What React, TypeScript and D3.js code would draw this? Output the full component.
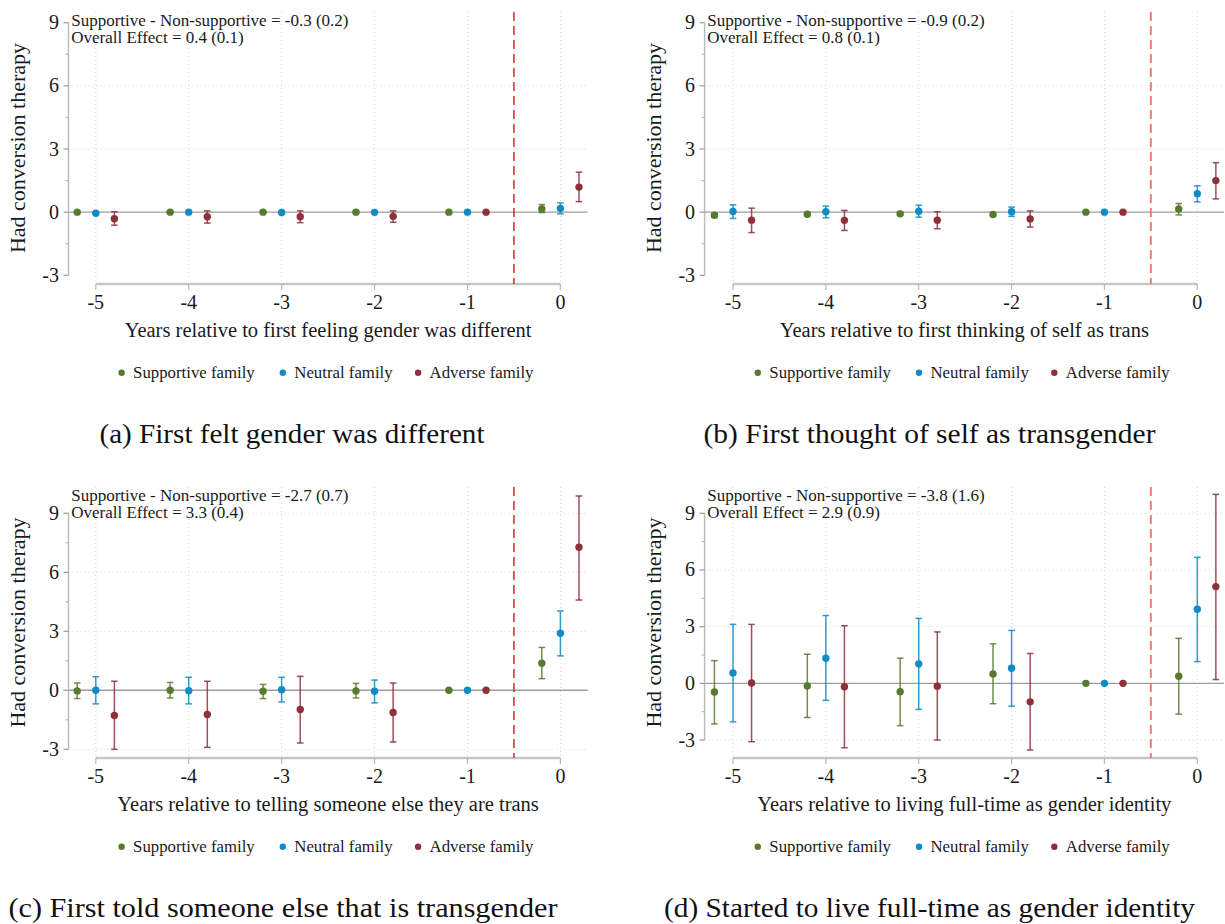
import React from 'react';
import * as d3 from 'd3';

// event time (years relative to the event)
const years = [-5, -4, -3, -2, -1, 0];
const yTicks = [-3, 0, 3, 6, 9];
const yMinorTicks = [-1.5, 1.5, 4.5, 7.5];

const groupNames = ['Supportive family', 'Neutral family', 'Adverse family'];
const groupColors = ['#587a2f', '#0f8bc6', '#8e3039'];
const groupShift = [-0.2, 0, 0.2];

// [estimate, lower, upper] per year
// (a) first felt gender was different
const supportiveA = [[0, -0.03, 0.03], [0, -0.03, 0.03], [0, -0.03, 0.03], [0, -0.03, 0.03], [0, 0, 0], [0.15, -0.02, 0.36]];
const neutralA = [[-0.05, -0.08, -0.02], [0, -0.03, 0.03], [-0.02, -0.05, 0.01], [-0.01, -0.04, 0.02], [0, 0, 0], [0.18, -0.08, 0.44]];
const adverseA = [[-0.31, -0.62, 0.02], [-0.22, -0.52, 0.06], [-0.22, -0.5, 0.06], [-0.2, -0.48, 0.06], [0, 0, 0], [1.19, 0.5, 1.9]];

// (b) first thought of self as transgender
const supportiveB = [[-0.15, -0.25, -0.05], [-0.1, -0.18, -0.02], [-0.08, -0.15, 0], [-0.11, -0.19, -0.03], [0, 0, 0], [0.15, -0.13, 0.41]];
const neutralB = [[0.03, -0.3, 0.35], [0.02, -0.27, 0.29], [0.04, -0.24, 0.33], [0.02, -0.2, 0.24], [0, 0, 0], [0.88, 0.49, 1.25]];
const adverseB = [[-0.38, -0.97, 0.19], [-0.39, -0.87, 0.08], [-0.38, -0.79, 0.02], [-0.32, -0.71, 0.06], [0, 0, 0], [1.5, 0.63, 2.35]];

// (c) first told someone else
const supportiveC = [[-0.03, -0.42, 0.37], [0, -0.39, 0.4], [-0.05, -0.42, 0.3], [-0.03, -0.39, 0.35], [0, 0, 0], [1.38, 0.59, 2.18]];
const neutralC = [[0, -0.69, 0.69], [-0.02, -0.69, 0.66], [0.03, -0.59, 0.66], [-0.05, -0.64, 0.52], [0, 0, 0], [2.9, 1.75, 4.03]];
const adverseC = [[-1.28, -3.0, 0.46], [-1.23, -2.9, 0.46], [-0.98, -2.68, 0.71], [-1.13, -2.63, 0.37], [0, 0, 0], [7.27, 4.59, 9.88]];

// (d) started to live full-time
const supportiveD = [[-0.46, -2.15, 1.2], [-0.14, -1.81, 1.54], [-0.44, -2.24, 1.33], [0.5, -1.08, 2.09], [0, 0, 0], [0.38, -1.63, 2.38]];
const neutralD = [[0.55, -2.04, 3.12], [1.33, -0.9, 3.59], [1.03, -1.38, 3.44], [0.8, -1.21, 2.8], [0, 0, 0], [3.92, 1.15, 6.67]];
const adverseD = [[0.02, -3.09, 3.12], [-0.18, -3.41, 3.05], [-0.15, -3.0, 2.72], [-0.98, -3.53, 1.58], [0, 0, 0], [5.12, 0.2, 10.0]];

const annotationsA = ['Supportive - Non-supportive = -0.3 (0.2)', 'Overall Effect = 0.4 (0.1)'];
const annotationsB = ['Supportive - Non-supportive = -0.9 (0.2)', 'Overall Effect = 0.8 (0.1)'];
const annotationsC = ['Supportive - Non-supportive = -2.7 (0.7)', 'Overall Effect = 3.3 (0.4)'];
const annotationsD = ['Supportive - Non-supportive = -3.8 (1.6)', 'Overall Effect = 2.9 (0.9)'];

const xTitles = [
  'Years relative to first feeling gender was different',
  'Years relative to first thinking of self as trans',
  'Years relative to telling someone else they are trans',
  'Years relative to living full-time as gender identity',
];
const captions = [
  '(a) First felt gender was different',
  '(b) First thought of self as transgender',
  '(c) First told someone else that is transgender',
  '(d) Started to live full-time as gender identity',
];
const captionWidths = [385, 452, 549, 531];
const captionCenters = [292, 929.5, 283, 929.5];

const serif = 'Liberation Serif, Times New Roman, Times, DejaVu Serif, serif';

// column / row geometry
const cols = [
  { x0: 95.8, x1: 560.4, axisX: 68.5, right: 587.7 },
  { x0: 733, x1: 1197.3, axisX: 704.6, right: 1224 },
];
const rows = [
  { top: 12, axisY: 284 },
  { top: 487, axisY: 758 },
];

const panels = [
  { col: 0, row: 0, series: [supportiveA, neutralA, adverseA], notes: annotationsA, yr: [275.3, 22.7], gridEnds: false, vcolor: '#d8141a', vwidth: 1.4 },
  { col: 1, row: 0, series: [supportiveB, neutralB, adverseB], notes: annotationsB, yr: [275.3, 22.7], gridEnds: false, vcolor: '#f77a7a', vwidth: 2 },
  { col: 0, row: 1, series: [supportiveC, neutralC, adverseC], notes: annotationsC, yr: [749.3, 513.3], gridEnds: true, vcolor: '#d8141a', vwidth: 1.4 },
  { col: 1, row: 1, series: [supportiveD, neutralD, adverseD], notes: annotationsD, yr: [740, 513.3], gridEnds: true, vcolor: '#f77a7a', vwidth: 2 },
];

const Panel = ({ p, i }) => {
  const c = cols[p.col];
  const r = rows[p.row];
  const x = d3.scaleLinear().domain([-5, 0]).range([c.x0, c.x1]);
  const y = d3.scaleLinear().domain([-3, 9]).range(p.yr);
  const mid = (c.axisX + c.right) / 2;
  const gridY = yTicks.filter((t) => t !== 0 && (p.gridEnds || (t !== -3 && t !== 9)));
  const legendDots = [-206.5, -45.3, 90];
  const cap = 3.3;

  return (
    <g>
      {/* grid */}
      {gridY.map((t) => (
        <line key={'gy' + t} x1={c.axisX} x2={c.right} y1={y(t)} y2={y(t)} stroke="#d4d4d4" strokeWidth={1} strokeDasharray="1,3" />
      ))}
      {years.map((t) => (
        <line key={'gx' + t} x1={x(t)} x2={x(t)} y1={r.top} y2={r.axisY} stroke="#d4d4d4" strokeWidth={1} strokeDasharray="1,3" />
      ))}
      {/* zero line */}
      <line x1={c.axisX} x2={c.right} y1={y(0)} y2={y(0)} stroke="#9e9e9e" strokeWidth={1.4} />
      {/* y axis */}
      <line x1={c.axisX} x2={c.axisX} y1={y(9)} y2={y(-3)} stroke="#bdbdbd" strokeWidth={1.5} />
      {yTicks.map((t) => (
        <g key={'yt' + t}>
          <line x1={c.axisX - 5} x2={c.axisX} y1={y(t)} y2={y(t)} stroke="#9a9a9a" strokeWidth={1.2} />
          <text x={c.axisX - 9.5} y={y(t) + 6.5} textAnchor="end" fontFamily={serif} fontSize={20} fill="#1a1a1a">{t}</text>
        </g>
      ))}
      {yMinorTicks.map((t) => (
        <line key={'ym' + t} x1={c.axisX - 3} x2={c.axisX} y1={y(t)} y2={y(t)} stroke="#b0b0b0" strokeWidth={1} />
      ))}
      <text transform={`translate(${c.axisX - 44},${(r.top + r.axisY) / 2}) rotate(-90)`} textAnchor="middle" fontFamily={serif} fontSize={22} fill="#1a1a1a">Had conversion therapy</text>
      {/* x axis */}
      <line x1={x(-5)} x2={x(0)} y1={r.axisY} y2={r.axisY} stroke="#c6c6c6" strokeWidth={2.5} />
      {years.map((t) => (
        <g key={'xt' + t}>
          <line x1={x(t)} x2={x(t)} y1={r.axisY} y2={r.axisY + 6} stroke="#b8b8b8" strokeWidth={1.2} />
          <text x={x(t)} y={r.axisY + 24.7} textAnchor="middle" fontFamily={serif} fontSize={20} fill="#1a1a1a">{t}</text>
        </g>
      ))}
      <text x={mid} y={r.axisY + 53} textAnchor="middle" fontFamily={serif} fontSize={20.5} fill="#1a1a1a">{xTitles[i]}</text>
      {/* event line */}
      <line x1={x(-0.5)} x2={x(-0.5)} y1={r.top} y2={r.axisY} stroke={p.vcolor} strokeWidth={p.vwidth} strokeDasharray="9,5" />
      {/* estimates */}
      {p.series.map((s, g) => (
        <g key={'s' + g}>
          {s.map((d, k) => {
            const px = x(years[k] + groupShift[g]);
            const hasBar = d[2] - d[1] > 0.001;
            return (
              <g key={k}>
                {hasBar && (
                  <g stroke={groupColors[g]} strokeWidth={1.5} strokeOpacity={0.85}>
                    <line x1={px} x2={px} y1={y(d[1])} y2={y(d[2])} />
                    <line x1={px - cap} x2={px + cap} y1={y(d[1])} y2={y(d[1])} />
                    <line x1={px - cap} x2={px + cap} y1={y(d[2])} y2={y(d[2])} />
                  </g>
                )}
                <circle cx={px} cy={y(d[0])} r={3.7} fill={groupColors[g]} />
              </g>
            );
          })}
        </g>
      ))}
      {/* annotations */}
      {p.notes.map((t, k) => (
        <text key={'n' + k} x={c.axisX + 2.7} y={r.top + 14.3 + k * 16.6} fontFamily={serif} fontSize={17} fill="#1a1a1a">{t}</text>
      ))}
      {/* legend */}
      {groupNames.map((nm, g) => (
        <g key={'lg' + g}>
          <circle cx={mid + legendDots[g]} cy={r.axisY + 88.7} r={3.2} fill={groupColors[g]} />
          <text x={mid + legendDots[g] + 11.5} y={r.axisY + 94.3} fontFamily={serif} fontSize={16.8} fill="#1a1a1a">{nm}</text>
        </g>
      ))}
      {/* caption */}
      <text x={captionCenters[i]} y={r.axisY + 159} textAnchor="middle" fontFamily={serif} fontSize={27} textLength={captionWidths[i]} lengthAdjust="spacingAndGlyphs" fill="#111">{captions[i]}</text>
    </g>
  );
};

export default function App() {
  return (
    <svg width={1225} height={924} style={{ position: 'absolute', left: 0, top: 0, background: '#fff' }}>
      <rect width={1225} height={924} fill="#fff" />
      {panels.map((p, i) => (
        <Panel key={i} p={p} i={i} />
      ))}
    </svg>
  );
}
